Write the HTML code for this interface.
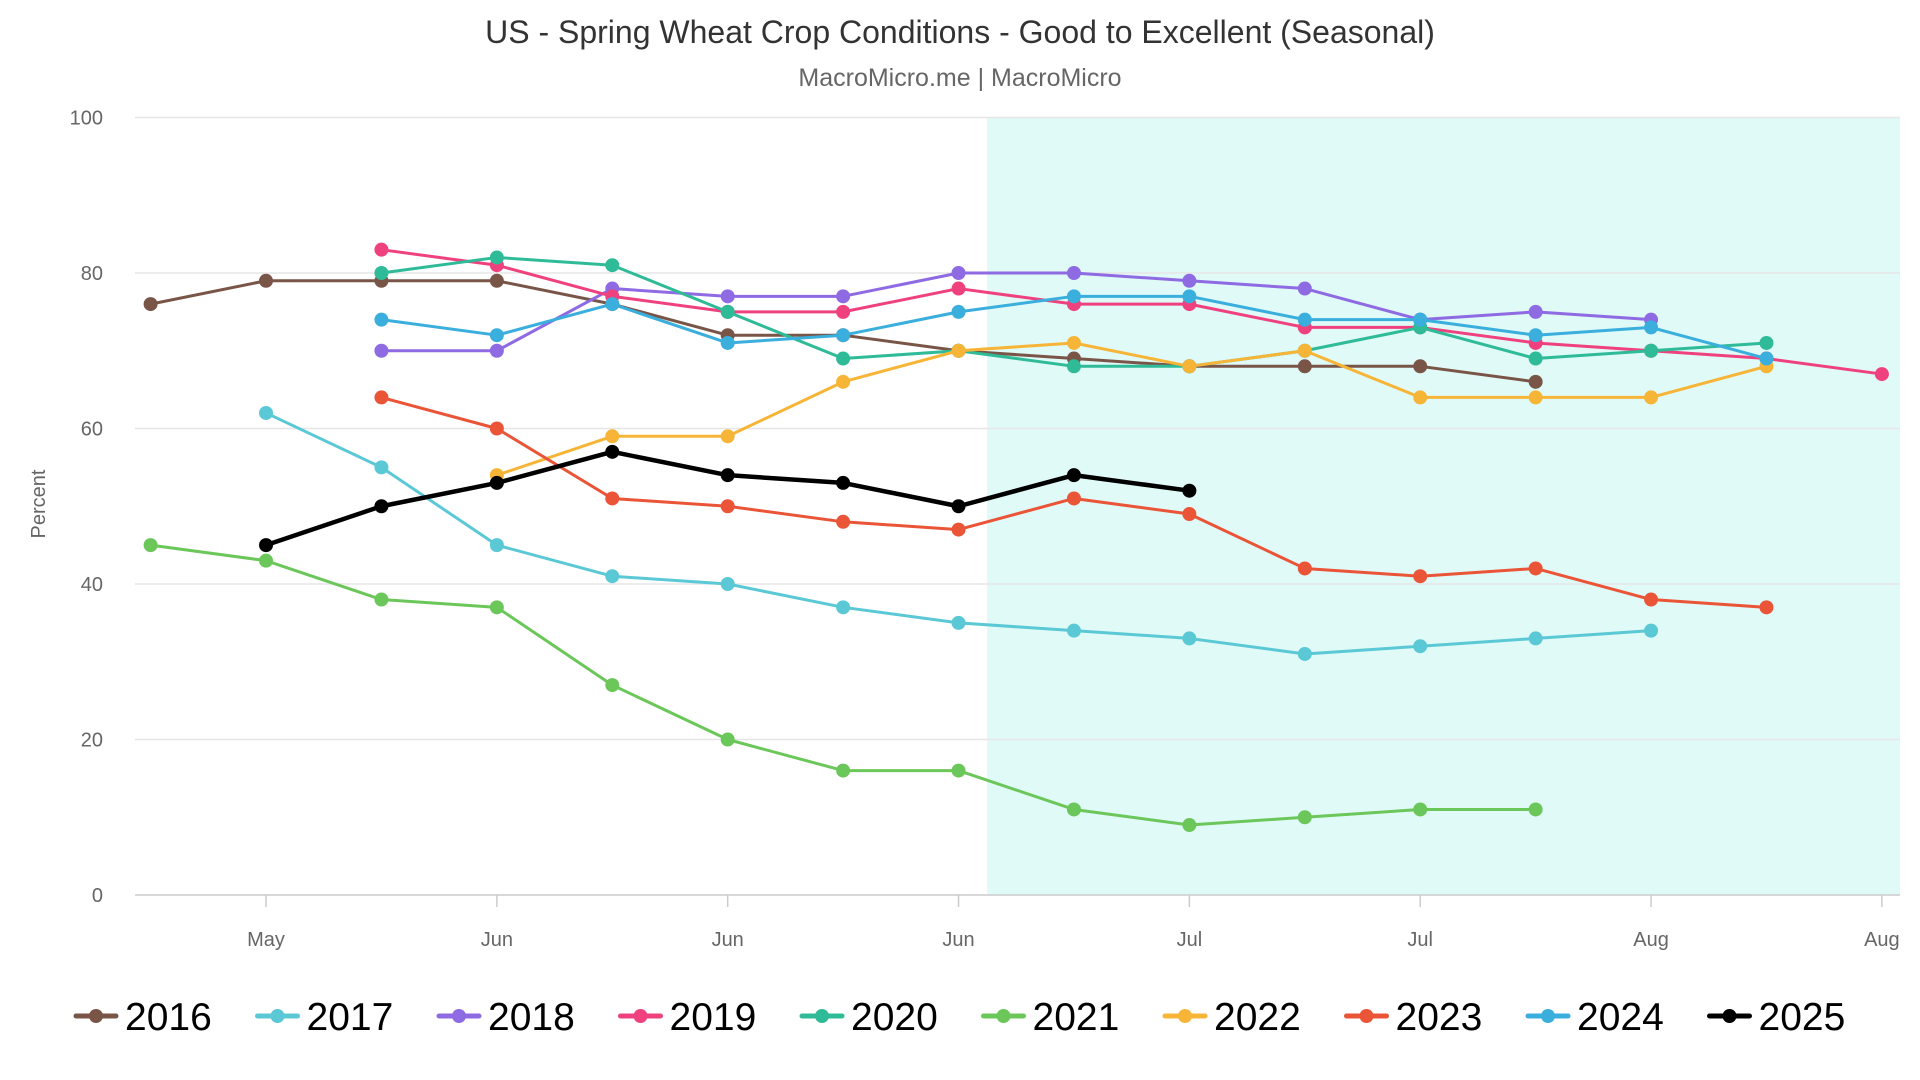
<!DOCTYPE html>
<html><head><meta charset="utf-8"><style>
body{margin:0;background:#fff;font-family:"Liberation Sans",sans-serif;}
svg{display:block}
</style></head><body>
<svg id="chart" width="1920" height="1080">
<text x="960" y="43" text-anchor="middle" font-size="32" fill="#333">US - Spring Wheat Crop Conditions - Good to Excellent (Seasonal)</text>
<text x="960" y="86" text-anchor="middle" font-size="25" fill="#666">MacroMicro.me | MacroMicro</text>
<text transform="translate(45,504) rotate(-90)" text-anchor="middle" font-size="20" fill="#666">Percent</text>
<g id="plot"></g>
</svg>
<script>
const yTicks=[0,20,40,60,80,100];
const xTickIdx=[1,3,5,7,9,11,13,15];
const xTickLabels=["May","Jun","Jun","Jun","Jul","Jul","Aug","Aug"];
const years=["2016","2017","2018","2019","2020","2021","2022","2023","2024","2025"];
const colors=["#795548","#5bc8d6","#8e6ae3","#f0417f","#2fbb98","#6cc75a","#f7b538","#ea5437","#3aaedc","#000000"];
const s2016=[76,79,79,79,76,72,72,70,69,68,68,68,66,null,null,null];
const s2017=[null,62,55,45,41,40,37,35,34,33,31,32,33,34,null,null];
const s2018=[null,null,70,70,78,77,77,80,80,79,78,74,75,74,null,null];
const s2019=[null,null,83,81,77,75,75,78,76,76,73,73,71,70,69,67];
const s2020=[null,null,80,82,81,75,69,70,68,68,70,73,69,70,71,null];
const s2021=[45,43,38,37,27,20,16,16,11,9,10,11,11,null,null,null];
const s2022=[null,null,null,54,59,59,66,70,71,68,70,64,64,64,68,null];
const s2023=[null,null,64,60,51,50,48,47,51,49,42,41,42,38,37,null];
const s2024=[null,null,74,72,76,71,72,75,77,77,74,74,72,73,69,null];
const s2025=[null,45,50,53,57,54,53,50,54,52,null,null,null,null,null,null];
const series=[s2016,s2017,s2018,s2019,s2020,s2021,s2022,s2023,s2024,s2025];
const NS="http://www.w3.org/2000/svg";
const L=135,R=1900,T=117.5,B=895;
const x=i=>150.6+i*115.42;
const y=v=>B-(v/100)*(B-T);
const g=document.getElementById('plot');
function mk(tag,attrs,parent){const e=document.createElementNS(NS,tag);for(const k in attrs)e.setAttribute(k,attrs[k]);(parent||g).appendChild(e);return e;}
const shade=mk('rect',{x:987,y:T,width:R-987,height:B-T,fill:"#e0faf8"});


yTicks.forEach(v=>{
 const l=mk('line',{x1:L,x2:R,y1:y(v),y2:y(v),stroke:v===0?"#ccc":"#e6e6e6","stroke-width":1.5});
 
 
 const t=mk('text',{x:103,y:y(v)+7,"text-anchor":"end","font-size":20,fill:"#666"});
 t.textContent=v;
 
 
});
xTickIdx.forEach((i,k)=>{
 const l=mk('line',{x1:x(i),x2:x(i),y1:B,y2:B+12,stroke:"#ccc","stroke-width":1.5});
 
 
 const t=mk('text',{x:x(i),y:946,"text-anchor":"middle","font-size":20,fill:"#666"});
 t.textContent=xTickLabels[k];
 
 
});
series.forEach((d,si)=>{
 const grp=mk('g',{});
 
 
 let pts=[];d.forEach((v,i)=>{if(v!==null)pts.push(x(i)+","+y(v));});
 const pl=mk('polyline',{points:pts.join(" "),fill:"none",stroke:colors[si],"stroke-width":si===9?4.5:3,"stroke-linejoin":"round"},grp);
 
 
 d.forEach((v,i)=>{if(v===null)return;
  const c=mk('circle',{cx:x(i),cy:y(v),r:7,fill:colors[si]},grp);
  
  
 });
});
const lx0=76,lstep=181.5,ly=1016;
years.forEach((yr,i)=>{
 const lg=mk('g',{});
 
 
 const bx=lx0+i*lstep;
 mk('line',{x1:bx,x2:bx+40,y1:ly,y2:ly,stroke:colors[i],"stroke-width":5,"stroke-linecap":"round"},lg);
 mk('circle',{cx:bx+20,cy:ly,r:7,fill:colors[i]},lg);
 const t=mk('text',{x:bx+49,y:ly+14,"font-size":39,fill:"#000"},lg);
 t.textContent=yr;
});
</script>
</body></html>
